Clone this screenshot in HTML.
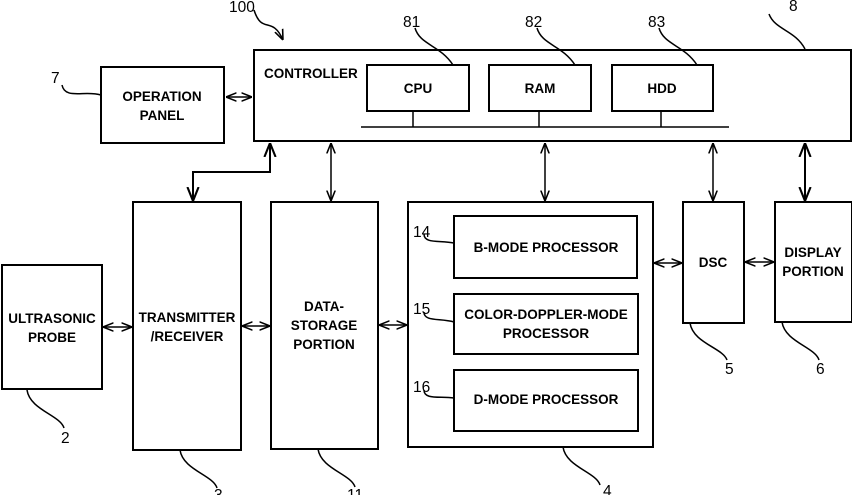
<!DOCTYPE html>
<html><head><meta charset="utf-8"><style>
html,body{margin:0;padding:0;background:#fff;}
svg{display:block;}
text{font-family:"Liberation Sans",sans-serif;font-size:13.5px;fill:#000;font-weight:bold;}
.n{font-size:15.5px;font-weight:normal;}
</style></head><body>
<svg width="852" height="495" viewBox="0 0 852 495" xmlns="http://www.w3.org/2000/svg">
<defs>
<marker id="a" viewBox="0 0 10 10" refX="10" refY="5" markerWidth="7" markerHeight="7" orient="auto-start-reverse">
<path d="M0,1 L10,5 L0,9" fill="none" stroke="#000" stroke-width="1.5"/>
</marker>
</defs>
<g fill="none" stroke="#000" stroke-width="2">
<rect x="254" y="50" width="597" height="91"/>
<rect x="367" y="65" width="102" height="46"/>
<rect x="489" y="65" width="102" height="46"/>
<rect x="612" y="65" width="101" height="46"/>
<rect x="101" y="67" width="123" height="76"/>
<rect x="2" y="265" width="100" height="124"/>
<rect x="133" y="202" width="108" height="248"/>
<rect x="271" y="202" width="107" height="247"/>
<rect x="408" y="202" width="245" height="245"/>
<rect x="454" y="216" width="183" height="62"/>
<rect x="454" y="294" width="184" height="60"/>
<rect x="454" y="370" width="184" height="61"/>
<rect x="683" y="202" width="61" height="121"/>
<rect x="775" y="202" width="77" height="120"/>
</g>
<g stroke="#000" stroke-width="1.5" fill="none">
<line x1="361" y1="127" x2="729" y2="127"/>
<line x1="413" y1="111" x2="413" y2="127"/>
<line x1="539" y1="111" x2="539" y2="127"/>
<line x1="661" y1="111" x2="661" y2="127"/>
<line x1="226" y1="97" x2="252" y2="97" marker-start="url(#a)" marker-end="url(#a)"/>
<polyline points="270,143 270,172 193,172 193,201" stroke-width="2" marker-start="url(#a)" marker-end="url(#a)"/>
<line x1="331" y1="143" x2="331" y2="201" marker-start="url(#a)" marker-end="url(#a)"/>
<line x1="545" y1="143" x2="545" y2="201" marker-start="url(#a)" marker-end="url(#a)"/>
<line x1="713" y1="143" x2="713" y2="201" marker-start="url(#a)" marker-end="url(#a)"/>
<line x1="805" y1="143" x2="805" y2="201" stroke-width="2" marker-start="url(#a)" marker-end="url(#a)"/>
<line x1="103" y1="327" x2="132" y2="327" marker-start="url(#a)" marker-end="url(#a)"/>
<line x1="242" y1="326" x2="270" y2="326" marker-start="url(#a)" marker-end="url(#a)"/>
<line x1="379" y1="325" x2="407" y2="325" marker-start="url(#a)" marker-end="url(#a)"/>
<line x1="654" y1="263" x2="682" y2="263" marker-start="url(#a)" marker-end="url(#a)"/>
<line x1="745" y1="262" x2="774" y2="262" marker-start="url(#a)" marker-end="url(#a)"/>
<path d="M254,10 C262,35 272,15 283,40" marker-end="url(#a)"/>
<path d="M415,28 C420,45 440,45 453,65"/>
<path d="M537,28 C542,45 562,45 575,65"/>
<path d="M659,28 C664,45 684,45 697,65"/>
<path d="M769,14 C775,30 795,30 805,49"/>
<path d="M62,85 C65,100 85,90 101,95"/>
<path d="M27,390 C30,410 60,415 64,428"/>
<path d="M180,450 C183,470 213,475 217,488"/>
<path d="M318,449 C321,469 351,474 355,487"/>
<path d="M563,447 C566,467 596,472 600,485"/>
<path d="M690,323 C693,343 723,348 727,360"/>
<path d="M782,322 C785,342 815,347 819,360"/>
<path d="M424,234 C424,244 440,240 454,243"/>
<path d="M424,312 C424,322 440,318 454,322"/>
<path d="M424,390 C424,400 440,396 454,398"/>
</g>
<text class="n" x="229" y="12">100</text>
<text class="n" x="789" y="11">8</text>
<text class="n" x="403" y="27">81</text>
<text class="n" x="525" y="27">82</text>
<text class="n" x="648" y="27">83</text>
<text class="n" x="51" y="83">7</text>
<text class="n" x="61" y="443">2</text>
<text class="n" x="214" y="500">3</text>
<text class="n" x="347" y="500">11</text>
<text class="n" x="603" y="496">4</text>
<text class="n" x="725" y="374">5</text>
<text class="n" x="816" y="374">6</text>
<text class="n" x="413" y="237">14</text>
<text class="n" x="413" y="314">15</text>
<text class="n" x="413" y="392">16</text>
<text x="264" y="78">CONTROLLER</text>
<g text-anchor="middle">
<text x="418" y="93">CPU</text>
<text x="540" y="93">RAM</text>
<text x="662" y="93">HDD</text>
<text x="162" y="101">OPERATION</text>
<text x="162" y="120">PANEL</text>
<text x="52" y="323">ULTRASONIC</text>
<text x="52" y="342">PROBE</text>
<text x="187" y="322">TRANSMITTER</text>
<text x="187" y="341">/RECEIVER</text>
<text x="324" y="311">DATA-</text>
<text x="324" y="330">STORAGE</text>
<text x="324" y="349">PORTION</text>
<text x="546" y="252">B-MODE PROCESSOR</text>
<text x="546" y="319">COLOR-DOPPLER-MODE</text>
<text x="546" y="338">PROCESSOR</text>
<text x="546" y="404">D-MODE PROCESSOR</text>
<text x="713" y="267">DSC</text>
<text x="813" y="257">DISPLAY</text>
<text x="813" y="276">PORTION</text>
</g>
</svg>
</body></html>
